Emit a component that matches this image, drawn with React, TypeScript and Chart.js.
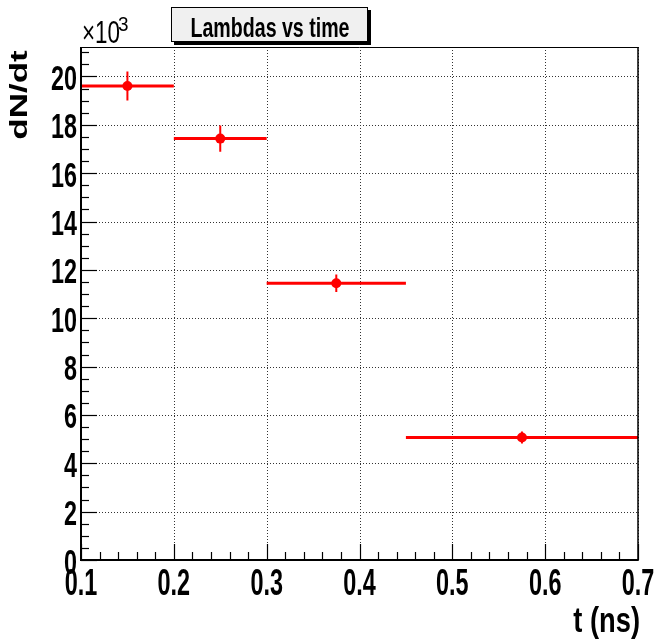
import React, { useEffect, useRef } from 'react';
import { Chart, registerables } from 'chart.js';

Chart.register(...registerables);

// ---- data ----
const binLow = [0.1, 0.2, 0.3, 0.45];
const binHigh = [0.2, 0.3, 0.45, 0.7];
const counts = [19610, 17430, 11450, 5070];
const countErrors = [600, 540, 360, 250];

const xMin = 0.1;
const xMax = 0.7;
const xStep = 0.1;
const yMin = 0;
const yMax = 21220;
const yStep = 2000;

const titleText = 'Lambdas vs time';
const xAxisTitle = 't (ns)';
const yAxisTitle = 'dN/dt';
const yExponentBase = '\u00d710';
const yExponent = '3';

const FONT = '"Liberation Sans", Arial, sans-serif';

function squishText(
  ctx: CanvasRenderingContext2D,
  text: string,
  x: number,
  y: number,
  font: string,
  sx: number,
  align: CanvasTextAlign
) {
  ctx.save();
  ctx.translate(x, y);
  ctx.scale(sx, 1);
  ctx.font = font;
  ctx.textAlign = align;
  ctx.textBaseline = 'alphabetic';
  ctx.fillStyle = '#000';
  ctx.fillText(text, 0, 0);
  ctx.restore();
}

function seg(ctx: CanvasRenderingContext2D, x1: number, y1: number, x2: number, y2: number) {
  ctx.beginPath();
  ctx.moveTo(x1, y1);
  ctx.lineTo(x2, y2);
  ctx.stroke();
}

function majorX(): number[] {
  const out: number[] = [];
  const n = Math.round((xMax - xMin) / xStep);
  for (let k = 0; k <= n; k++) out.push(xMin + k * xStep);
  return out;
}
function majorY(): number[] {
  const out: number[] = [];
  for (let v = yMin; v <= yMax; v += yStep) out.push(v);
  return out;
}

const rootStyle = {
  id: 'rootStyle',
  beforeDatasetsDraw(chart: any) {
    const { ctx, chartArea: a } = chart;
    const x = chart.scales.x;
    const y = chart.scales.y;
    ctx.save();
    ctx.strokeStyle = '#333';
    ctx.lineWidth = 1;
    ctx.setLineDash([1, 2]);
    majorX().forEach((v, k) => {
      if (k === 0) return;
      const px = Math.round(x.getPixelForValue(v)) + 0.5;
      seg(ctx, px, a.top, px, a.bottom);
    });
    majorY().forEach((v) => {
      if (v === yMin) return;
      const py = Math.round(y.getPixelForValue(v)) + 0.5;
      seg(ctx, a.left, py, a.right, py);
    });
    ctx.restore();
  },
  afterDatasetsDraw(chart: any) {
    const { ctx, chartArea: a } = chart;
    const x = chart.scales.x;
    const y = chart.scales.y;
    ctx.save();
    ctx.setLineDash([]);
    ctx.strokeStyle = '#000';

    // frame
    ctx.lineWidth = 1;
    seg(ctx, a.left, a.top + 0.5, a.right, a.top + 0.5);
    ctx.lineWidth = 1.5;
    seg(ctx, a.right, a.top, a.right, a.bottom);
    ctx.lineWidth = 2;
    seg(ctx, a.left, a.top, a.left, a.bottom + 1);
    seg(ctx, a.left - 1, a.bottom, a.right + 0.75, a.bottom);

    // y ticks (inside)
    ctx.lineWidth = 1.2;
    const yMinor = yStep / 4;
    for (let v = yMin; v <= yMax + 1e-9; v += yMinor) {
      const py = Math.round(y.getPixelForValue(v)) + 0.5;
      const len = v % yStep === 0 ? 16 : 8;
      seg(ctx, a.left, py, a.left + len, py);
    }
    // x ticks (inside)
    const xMinor = xStep / 5;
    for (let k = 0; xMin + k * xMinor <= xMax + 1e-9; k++) {
      const v = xMin + k * xMinor;
      const px = Math.round(x.getPixelForValue(v)) + 0.5;
      const len = k % 5 === 0 ? 16 : 8;
      seg(ctx, px, a.bottom, px, a.bottom - len);
    }

    // y tick labels
    majorY().forEach((v) => {
      const py = y.getPixelForValue(v);
      squishText(ctx, String(v / 1000), a.left - 4, py + 13.5, `bold 35px ${FONT}`, 0.667, 'right');
    });
    // x tick labels
    majorX().forEach((v) => {
      const px = x.getPixelForValue(v);
      squishText(ctx, v.toFixed(1), px, a.bottom + 35, `bold 36px ${FONT}`, 0.65, 'center');
    });

    // axis titles
    squishText(ctx, xAxisTitle, a.right + 2, 632, `bold 35px ${FONT}`, 0.78, 'right');

    ctx.save();
    ctx.translate(27, 95);
    ctx.scale(0.667, 1);
    ctx.rotate(-Math.PI / 2);
    ctx.font = `bold 35px ${FONT}`;
    ctx.textAlign = 'center';
    ctx.textBaseline = 'alphabetic';
    ctx.fillStyle = '#000';
    ctx.fillText(yAxisTitle, 0, 0);
    ctx.restore();

    // exponent
    squishText(ctx, yExponentBase, a.left + 1, 43, `32px ${FONT}`, 0.7, 'left');
    squishText(ctx, yExponent, a.left + 37, 31, `21px ${FONT}`, 0.9, 'left');

    // title box
    ctx.fillStyle = '#000';
    ctx.fillRect(174, 10, 197, 35);
    ctx.fillStyle = '#f0f0f0';
    ctx.fillRect(171, 7, 197, 35);
    ctx.lineWidth = 1;
    ctx.strokeStyle = '#000';
    ctx.strokeRect(171.5, 7.5, 196, 34);
    ctx.restore();
    squishText(ctx, titleText, 270, 36.5, `bold 28px ${FONT}`, 0.7, 'center');
  },
};

export default function App() {
  const canvasRef = useRef<HTMLCanvasElement | null>(null);

  useEffect(() => {
    if (!canvasRef.current) return;
    const centers = binLow.map((lo, i) => (lo + binHigh[i]) / 2);
    const markerData = centers.map((c, i) => ({ x: c, y: counts[i] }));
    const xErrData: any[] = [];
    binLow.forEach((lo, i) => {
      xErrData.push({ x: lo, y: counts[i] });
      xErrData.push({ x: binHigh[i], y: counts[i] });
      xErrData.push({ x: binHigh[i], y: null });
    });
    const yErrData: any[] = [];
    centers.forEach((c, i) => {
      yErrData.push({ x: c, y: counts[i] - countErrors[i] });
      yErrData.push({ x: c, y: counts[i] + countErrors[i] });
      yErrData.push({ x: c, y: null });
    });

    const chart = new Chart(canvasRef.current, {
      type: 'scatter',
      data: {
        datasets: [
          {
            label: 'markers',
            data: markerData,
            pointRadius: 5,
            pointHoverRadius: 5,
            backgroundColor: '#ff0000',
            borderColor: '#ff0000',
            borderWidth: 0,
            showLine: false,
          },
          {
            label: 'yerr',
            data: yErrData,
            showLine: true,
            spanGaps: false,
            pointRadius: 0,
            borderColor: '#ff0000',
            borderWidth: 2,
          },
          {
            label: 'xerr',
            data: xErrData,
            showLine: true,
            spanGaps: false,
            pointRadius: 0,
            borderColor: '#ff0000',
            borderWidth: 3,
          },
        ],
      } as any,
      options: {
        responsive: false,
        animation: false,
        layout: { padding: { top: 47, right: 17, left: 0, bottom: 0 } },
        plugins: {
          legend: { display: false },
          title: { display: false },
          tooltip: { enabled: false },
        },
        scales: {
          x: {
            type: 'linear',
            min: xMin,
            max: xMax,
            ticks: { stepSize: xStep, display: false },
            grid: { display: false },
            border: { display: false },
            afterFit: (s: any) => {
              s.height = 83;
            },
          },
          y: {
            type: 'linear',
            min: yMin,
            max: yMax,
            ticks: { stepSize: yStep, display: false },
            grid: { display: false },
            border: { display: false },
            afterFit: (s: any) => {
              s.width = 81;
            },
          },
        },
      } as any,
      plugins: [rootStyle],
    });
    return () => chart.destroy();
  }, []);

  return (
    <div style={{ position: 'absolute', left: 0, top: 0, width: 655, height: 643, background: '#fff' }}>
      <canvas ref={canvasRef} width={655} height={643} />
    </div>
  );
}
